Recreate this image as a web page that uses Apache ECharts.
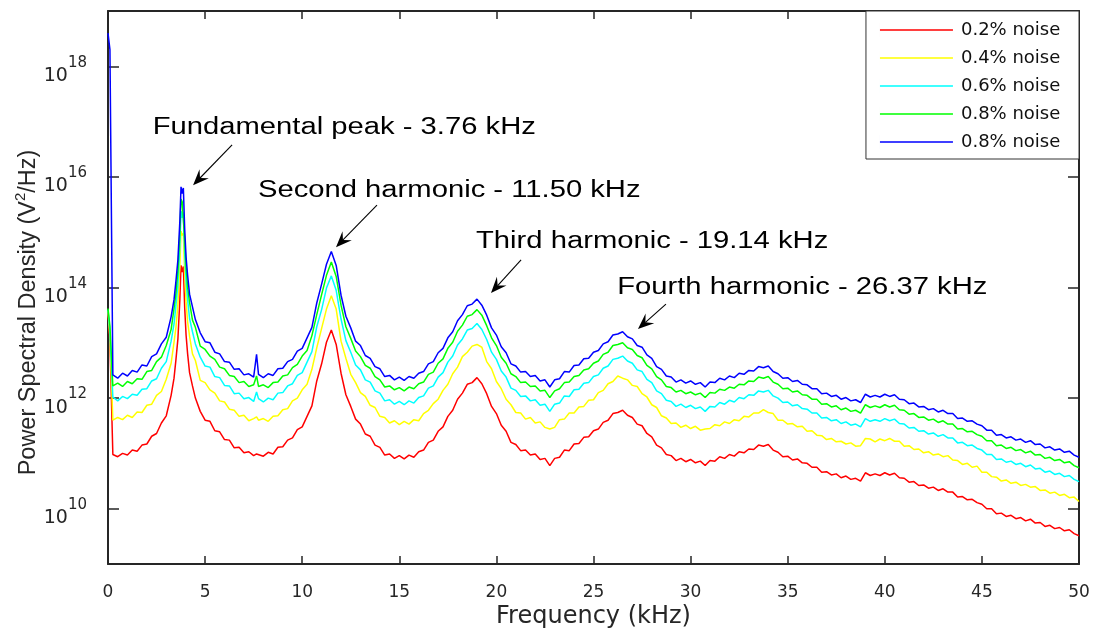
<!DOCTYPE html>
<html><head><meta charset="utf-8">
<script src="https://cdn.jsdelivr.net/npm/echarts@6/dist/echarts.min.js"></script>
<style>html,body{margin:0;padding:0;background:#fff}#c{width:1096px;height:630px}</style>
</head><body><div id="c"></div>
<script>
// Frequency grid (kHz)
const freq = [0,0.1,0.25,0.5,0.75,1,1.25,1.5,1.75,2,2.25,2.5,2.75,3,3.25,3.4,3.5,3.6,3.7,3.76,3.82,3.88,3.95,4.02,4.1,4.2,4.35,4.5,4.75,5,5.25,5.5,5.75,6,6.25,6.5,6.75,7,7.25,7.5,7.65,7.75,
8,8.25,8.5,8.75,9,9.25,9.5,9.75,10,10.25,10.5,10.75,11,11.25,11.5,11.75,12,12.25,12.5,12.75,13,13.25,13.5,13.75,14,14.25,14.5,14.75,15,15.25,15.5,15.75,16,16.25,16.5,16.75,17,17.25,17.5,17.75,
18,18.25,18.5,18.75,19,19.25,19.5,19.75,20,20.25,20.5,20.75,21,21.25,21.5,21.75,22,22.25,22.5,22.75,23,23.25,23.5,23.75,24,24.25,24.5,24.75,25,25.25,25.5,25.75,26,26.25,26.5,26.75,27,27.25,27.5,27.75,
28,28.25,28.5,28.75,29,29.25,29.5,29.75,30,30.25,30.5,30.75,31,31.25,31.5,31.75,32,32.25,32.5,32.75,33,33.25,33.5,33.75,34,34.25,34.5,34.75,35,35.25,35.5,35.75,36,36.25,36.5,36.75,37,37.25,37.5,37.75,
38,38.25,38.5,38.75,39,39.25,39.5,39.75,40,40.25,40.5,40.75,41,41.25,41.5,41.75,42,42.25,42.5,42.75,43,43.25,43.5,43.75,44,44.25,44.5,44.75,45,45.25,45.5,45.75,46,46.25,46.5,46.75,47,47.25,47.5,47.75,
48,48.25,48.5,48.75,49,49.25,49.5,49.75,50];

// PSD readings, stored as log10(V^2/Hz)
const log10Psd02 = [13.55,13.0,10.98,10.94,11.0,10.97,11.06,11.04,11.15,11.17,
11.31,11.36,11.55,11.68,12.05,12.36,12.7,13.07,13.78,14.4,
14.28,14.38,13.63,13.14,12.8,12.46,12.22,12.0,11.76,11.6,
11.58,11.41,11.39,11.25,11.24,11.1,11.11,11.01,11.03,10.96,
10.99,11.02,10.95,11.02,10.99,11.11,11.12,11.24,11.28,11.43,
11.48,11.67,11.86,12.31,12.62,13.01,13.23,12.97,12.45,12.06,
11.85,11.62,11.53,11.35,11.31,11.15,11.11,10.97,10.99,10.91,
10.96,10.9,10.97,10.93,11.03,11.06,11.2,11.24,11.4,11.48,
11.67,11.78,11.98,12.09,12.25,12.28,12.37,12.26,12.08,11.85,
11.72,11.51,11.4,11.2,11.16,11.05,11.06,10.97,10.99,10.89,
10.91,10.78,10.91,10.93,11.06,11.05,11.17,11.18,11.29,11.3,
11.41,11.44,11.56,11.6,11.72,11.74,11.78,11.69,11.65,11.53,
11.5,11.36,11.3,11.15,11.1,10.98,10.96,10.87,10.91,10.85,
10.89,10.83,10.86,10.78,10.87,10.86,10.94,10.91,10.98,10.95,
11.03,11.01,11.08,11.07,11.15,11.13,11.16,11.06,11.02,10.94,
10.95,10.88,10.9,10.83,10.82,10.75,10.75,10.66,10.67,10.61,
10.63,10.56,10.59,10.53,10.55,10.5,10.65,10.6,10.63,10.6,
10.65,10.61,10.64,10.56,10.55,10.48,10.49,10.42,10.43,10.37,
10.39,10.33,10.36,10.3,10.3,10.21,10.22,10.16,10.17,10.11,
10.08,10.0,10.0,9.91,9.92,9.86,9.88,9.82,9.84,9.78,
9.81,9.74,9.75,9.68,9.7,9.64,9.66,9.6,9.62,9.55,9.51];

const log10Psd04 = [13.58,13.1,11.6,11.65,11.61,11.69,11.65,11.75,11.74,11.87,
11.89,12.05,12.12,12.34,12.63,13.01,13.28,13.7,14.4,15.02,
14.94,14.98,14.25,13.74,13.38,13.12,12.8,12.68,12.32,12.28,
12.15,12.09,11.95,11.93,11.8,11.78,11.67,11.69,11.59,11.63,
11.66,11.6,11.63,11.58,11.67,11.68,11.79,11.81,11.95,12.0,
12.15,12.25,12.52,12.91,13.26,13.61,13.85,13.61,13.03,12.72,
12.43,12.28,12.1,12.03,11.87,11.83,11.67,11.65,11.55,11.59,
11.52,11.58,11.53,11.61,11.59,11.72,11.78,11.9,11.98,12.14,
12.25,12.44,12.56,12.75,12.83,12.94,12.97,12.92,12.66,12.53,
12.3,12.17,11.98,11.88,11.74,11.73,11.62,11.65,11.55,11.57,
11.47,11.44,11.47,11.61,11.62,11.73,11.73,11.84,11.85,11.96,
11.97,12.1,12.14,12.26,12.3,12.4,12.36,12.33,12.23,12.21,
12.08,12.02,11.88,11.83,11.68,11.64,11.54,11.55,11.47,11.51,
11.45,11.49,11.42,11.44,11.45,11.52,11.5,11.57,11.54,11.61,
11.59,11.67,11.66,11.73,11.73,11.79,11.74,11.72,11.6,11.6,
11.53,11.54,11.48,11.49,11.4,11.41,11.33,11.32,11.25,11.27,
11.21,11.22,11.17,11.19,11.13,11.14,11.27,11.26,11.21,11.26,
11.23,11.27,11.22,11.22,11.13,11.14,11.07,11.08,11.01,11.03,
10.97,10.99,10.94,10.96,10.88,10.87,10.8,10.82,10.75,10.77,
10.66,10.66,10.58,10.57,10.5,10.52,10.46,10.48,10.42,10.44,
10.39,10.4,10.33,10.34,10.28,10.3,10.24,10.26,10.2,10.21,10.13];

const log10Psd06 = [13.6,13.2,12.02,11.95,12.03,11.99,12.07,12.05,12.16,12.17,
12.31,12.35,12.54,12.66,13.03,13.34,13.68,14.05,14.76,15.38,
15.26,15.36,14.61,14.12,13.78,13.44,13.2,12.98,12.74,12.58,
12.56,12.39,12.37,12.23,12.22,12.08,12.09,11.99,12.01,11.94,
12.11,11.99,11.93,12.0,11.97,12.09,12.1,12.22,12.26,12.41,
12.46,12.65,12.84,13.29,13.6,13.99,14.21,13.95,13.43,13.04,
12.83,12.6,12.51,12.33,12.29,12.13,12.09,11.95,11.97,11.89,
11.94,11.88,11.95,11.91,12.01,12.04,12.18,12.22,12.38,12.46,
12.65,12.76,12.96,13.07,13.23,13.26,13.35,13.24,13.06,12.83,
12.7,12.49,12.38,12.18,12.14,12.03,12.04,11.95,11.97,11.87,
11.89,11.76,11.89,11.91,12.04,12.03,12.15,12.16,12.27,12.28,
12.39,12.42,12.54,12.58,12.7,12.72,12.76,12.67,12.63,12.51,
12.48,12.34,12.28,12.13,12.08,11.96,11.94,11.85,11.89,11.83,
11.87,11.81,11.84,11.76,11.85,11.84,11.92,11.89,11.96,11.93,
12.01,11.99,12.06,12.05,12.13,12.11,12.14,12.04,12.0,11.92,
11.93,11.86,11.88,11.81,11.8,11.73,11.73,11.64,11.65,11.59,
11.61,11.54,11.57,11.51,11.53,11.48,11.63,11.58,11.61,11.58,
11.63,11.59,11.62,11.54,11.53,11.46,11.47,11.4,11.41,11.35,
11.37,11.31,11.34,11.28,11.28,11.19,11.2,11.14,11.15,11.09,
11.06,10.98,10.98,10.89,10.9,10.84,10.86,10.8,10.82,10.76,
10.79,10.72,10.73,10.66,10.68,10.62,10.64,10.58,10.6,10.53,10.49];

const log10Psd08a = [13.62,13.3,12.22,12.27,12.21,12.3,12.26,12.35,12.34,12.48,
12.5,12.66,12.74,12.95,13.24,13.62,13.9,14.3,15.0,15.6,
15.55,15.58,14.85,14.37,14.0,13.73,13.41,13.28,12.94,12.88,
12.76,12.7,12.56,12.53,12.41,12.39,12.28,12.3,12.21,12.24,
12.4,12.21,12.24,12.19,12.28,12.29,12.4,12.42,12.55,12.61,
12.76,12.86,13.13,13.51,13.87,14.22,14.46,14.2,13.68,13.29,
13.08,12.85,12.75,12.59,12.54,12.39,12.33,12.2,12.22,12.15,
12.19,12.13,12.2,12.17,12.26,12.29,12.43,12.47,12.63,12.71,
12.9,13.01,13.21,13.32,13.48,13.51,13.6,13.5,13.31,13.09,
12.95,12.74,12.63,12.44,12.39,12.28,12.29,12.21,12.22,12.13,
12.14,12.01,12.13,12.17,12.28,12.29,12.39,12.41,12.51,12.53,
12.63,12.67,12.79,12.83,12.95,12.97,13.0,12.91,12.88,12.77,
12.73,12.59,12.53,12.39,12.33,12.21,12.19,12.11,12.14,12.08,
12.11,12.06,12.09,12.01,12.1,12.09,12.16,12.14,12.2,12.18,
12.25,12.24,12.31,12.3,12.38,12.36,12.39,12.29,12.25,12.17,
12.18,12.11,12.13,12.06,12.05,11.98,11.98,11.89,11.9,11.84,
11.86,11.79,11.82,11.76,11.78,11.73,11.88,11.83,11.86,11.83,
11.88,11.84,11.87,11.79,11.78,11.71,11.72,11.65,11.66,11.6,
11.62,11.56,11.59,11.53,11.53,11.44,11.45,11.39,11.4,11.34,
11.31,11.23,11.23,11.14,11.15,11.09,11.11,11.05,11.07,11.01,
11.04,10.97,10.98,10.91,10.93,10.87,10.89,10.83,10.85,10.78,10.74];

const log10Psd08b = [18.6,18.3,12.42,12.36,12.45,12.4,12.5,12.47,12.6,12.58,
12.75,12.8,12.98,13.1,13.47,13.78,14.12,14.5,15.2,15.82,
15.7,15.8,15.05,14.55,14.22,13.88,13.65,13.42,13.18,13.02,
13.0,12.83,12.8,12.66,12.65,12.52,12.53,12.42,12.44,12.38,
12.79,12.43,12.37,12.44,12.41,12.53,12.54,12.66,12.7,12.85,
12.9,13.09,13.28,13.72,14.06,14.42,14.65,14.4,13.86,13.48,
13.27,13.03,12.95,12.77,12.72,12.57,12.53,12.39,12.41,12.33,
12.38,12.32,12.39,12.36,12.45,12.48,12.62,12.66,12.82,12.9,
13.09,13.2,13.4,13.51,13.67,13.7,13.79,13.68,13.5,13.27,
13.14,12.93,12.82,12.62,12.58,12.47,12.48,12.39,12.41,12.31,
12.33,12.2,12.33,12.35,12.48,12.47,12.59,12.6,12.71,12.72,
12.83,12.86,12.98,13.02,13.14,13.16,13.2,13.11,13.07,12.95,
12.92,12.78,12.72,12.57,12.52,12.4,12.38,12.29,12.33,12.27,
12.31,12.25,12.28,12.2,12.29,12.28,12.36,12.33,12.4,12.37,
12.45,12.43,12.5,12.49,12.57,12.55,12.58,12.48,12.44,12.36,
12.37,12.3,12.32,12.25,12.24,12.17,12.17,12.08,12.09,12.03,
12.05,11.98,12.01,11.95,11.97,11.92,12.07,12.02,12.05,12.02,
12.07,12.03,12.06,11.98,11.97,11.9,11.91,11.84,11.85,11.79,
11.81,11.75,11.78,11.72,11.72,11.63,11.64,11.58,11.59,11.53,
11.5,11.42,11.42,11.33,11.34,11.28,11.3,11.24,11.26,11.2,
11.23,11.16,11.17,11.1,11.12,11.06,11.08,11.02,11.04,10.97,10.93];

const seriesNames = ['0.2% noise', '0.4% noise', '0.6% noise', '0.8% noise', '0.8% noise '];
const seriesColors = ['#ff0000', '#ffff00', '#00ffff', '#00ff00', '#0000ff'];
const seriesLogData = [log10Psd02, log10Psd04, log10Psd06, log10Psd08a, log10Psd08b];

const yTickValues = [1e10, 1e12, 1e14, 1e16, 1e18];
const xTickStep = 5;

// Annotation text anchors and arrows (data coordinates: kHz, log10 value)
const annTexts = ['Fundamental peak - 3.76 kHz', 'Second harmonic - 11.50 kHz', 'Third harmonic - 19.14 kHz', 'Fourth harmonic - 26.37 kHz'];
const annTextAt = [[2.30, 16.89], [7.72, 15.75], [18.95, 14.82], [26.22, 14.0]];
const annArrowTail = [[6.39, 16.58], [13.85, 15.49], [21.27, 14.50], [28.73, 13.70]];
const annArrowHead = [[4.38, 15.85], [11.74, 14.73], [19.72, 13.90], [27.29, 13.25]];

const AX = '#262626';
const series = seriesLogData.map((arr, i) => ({
  name: seriesNames[i],
  type: 'line',
  xAxisIndex: 0, yAxisIndex: 0,
  symbol: 'none', showSymbol: false,
  lineStyle: { color: seriesColors[i], width: 1.5 },
  itemStyle: { color: seriesColors[i] },
  data: freq.map((f, k) => [f, Math.pow(10, arr[k])]),
  z: 2 + i,
  silent: true
}));

const option = {
  animation: false,
  backgroundColor: '#ffffff',
  grid: { left: 108, right: 17, top: 11, bottom: 66, outerBoundsMode: 'none', containLabel: false },
  legend: {
    data: seriesNames,
    top: 11, right: 17,
    orient: 'vertical', align: 'left',
    icon: 'path://M0,0h0.01v14h-0.01zM0,6.3h73v1.4h-73z',
    itemWidth: 73, itemHeight: 14, itemGap: 10,
    padding: [10, 13, 8, 14],
    borderColor: '#333', borderWidth: 1, backgroundColor: '#fff',
    textStyle: { fontFamily: 'DejaVu Sans', fontSize: 18, color: '#111', lineHeight: 16, padding: [0, 0, 0, 3] },
    z: 20
  },
  xAxis: [{
    type: 'value', min: 0, max: 50, interval: xTickStep, position: 'bottom',
    axisLine: { show: true, onZero: false, lineStyle: { color: AX, width: 2 } },
    axisTick: { inside: true, length: 8, lineStyle: { color: AX, width: 1.5 } },
    axisLabel: { margin: 20, color: AX, fontFamily: 'DejaVu Sans', fontSize: 17 },
    splitLine: { show: false },
    name: 'Frequency (kHz)', nameLocation: 'middle', nameGap: 41, nameMoveOverlap: false,
    nameTextStyle: { fontFamily: 'DejaVu Sans', fontSize: 24, color: AX }
  }, {
    type: 'value', min: 0, max: 50, interval: xTickStep, position: 'top',
    axisLine: { show: true, onZero: false, lineStyle: { color: AX, width: 2 } },
    axisTick: { inside: true, length: 8, lineStyle: { color: AX, width: 1.5 } },
    axisLabel: { show: false }, splitLine: { show: false }
  }],
  yAxis: [{
    type: 'log', logBase: 10, min: 1e9, max: 1e19, position: 'left',
    axisLine: { show: true, onZero: false, lineStyle: { color: AX, width: 2 } },
    axisTick: { inside: true, length: 11, customValues: yTickValues, lineStyle: { color: AX, width: 1.5 } },
    minorTick: { show: false },
    axisLabel: {
      customValues: yTickValues, margin: 21, padding: [8, 0, 0, 0],
      formatter: v => '{b|10}{s|' + Math.round(Math.log10(v)) + '}',
      rich: {
        b: { fontFamily: 'DejaVu Sans', fontSize: 19, color: AX, lineHeight: 30, verticalAlign: 'bottom' },
        s: { fontFamily: 'DejaVu Sans', fontSize: 15, color: AX, lineHeight: 18, verticalAlign: 'top' }
      }
    },
    splitLine: { show: false },
    name: '{a|Power Spectral Density (V}{s|2}{a|/Hz)}',
    nameLocation: 'middle', nameGap: 67, nameRotate: 90, nameMoveOverlap: false,
    nameTextStyle: {
      color: AX, padding: [0, 50, 0, 0],
      rich: {
        a: { fontFamily: 'Liberation Sans', fontSize: 23.5, color: AX, lineHeight: 28, verticalAlign: 'bottom' },
        s: { fontFamily: 'Liberation Sans', fontSize: 15, color: AX, lineHeight: 12, verticalAlign: 'top' }
      }
    }
  }, {
    type: 'log', logBase: 10, min: 1e9, max: 1e19, position: 'right',
    axisLine: { show: true, onZero: false, lineStyle: { color: AX, width: 2 } },
    axisTick: { inside: true, length: 11, customValues: yTickValues, lineStyle: { color: AX, width: 1.5 } },
    minorTick: { show: false },
    axisLabel: { show: false }, splitLine: { show: false }
  }],
  series: series
};

const chart = echarts.init(document.getElementById('c'), null, { renderer: 'canvas' });
chart.setOption(option);

// Annotations placed through the axes' scales
const toPx = (p) => chart.convertToPixel({ xAxisIndex: 0, yAxisIndex: 0 }, [p[0], Math.pow(10, p[1])]);
const graphics = [];
annTexts.forEach((t, i) => {
  const tp = toPx(annTextAt[i]);
  graphics.push({
    type: 'text', x: tp[0], y: tp[1], scaleX: 1.27, z: 30,
    style: { text: t, x: 0, y: 0, fill: '#000', font: '23px "Liberation Sans", Arial, sans-serif', textAlign: 'left', textVerticalAlign: 'middle', verticalAlign: 'middle' }
  });
  const a = toPx(annArrowTail[i]);
  const h = toPx(annArrowHead[i]);
  const dx = h[0] - a[0], dy = h[1] - a[1];
  const len = Math.sqrt(dx * dx + dy * dy);
  const ux = dx / len, uy = dy / len, px = -uy, py = ux;
  const L = 16, W = 6.5, N = 10;
  const notch = [h[0] - ux * N, h[1] - uy * N];
  graphics.push({ type: 'line', z: 30, shape: { x1: a[0], y1: a[1], x2: notch[0], y2: notch[1] }, style: { stroke: '#000', lineWidth: 1.1 } });
  graphics.push({ type: 'polygon', z: 30, shape: { points: [
    [h[0], h[1]],
    [h[0] - ux * L + px * W, h[1] - uy * L + py * W],
    notch,
    [h[0] - ux * L - px * W, h[1] - uy * L - py * W]
  ] }, style: { fill: '#000' } });
});
chart.setOption({ graphic: graphics });
</script>
</body></html>
